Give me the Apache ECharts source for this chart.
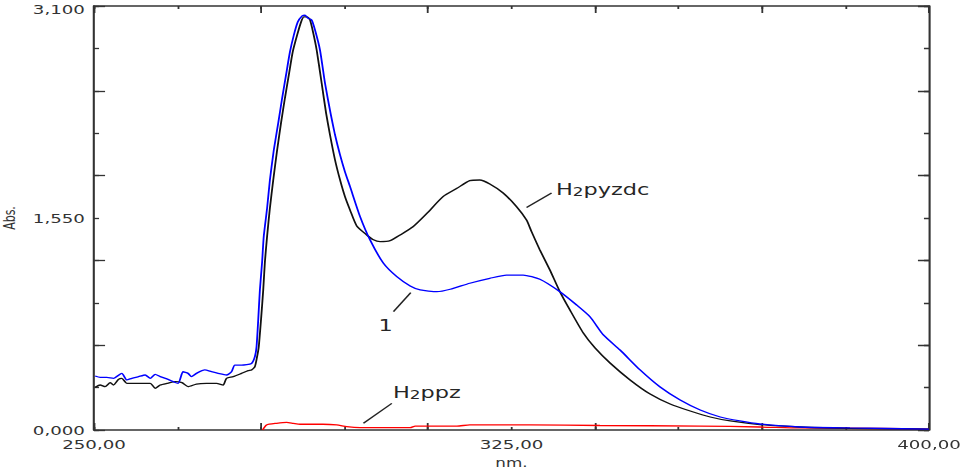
<!DOCTYPE html>
<html><head><meta charset="utf-8">
<script src="https://cdn.jsdelivr.net/npm/echarts/dist/echarts.min.js"></script>
<style>
html,body{margin:0;padding:0;background:#fff;overflow:hidden}
#wrap{width:960px;height:474px;overflow:hidden;position:relative}
#c{height:474px;transform-origin:0 0;position:absolute;left:0;top:0}
</style>
</head><body><div id="wrap"><div id="c"></div></div>
<script>
// ---- data ----
const xLabelTicks = [250, 325, 400];
const yLabelTicks = [0, 1.55, 3.1];

const pyzdcNm = [250.2,251.1,252.0,252.9,253.5,254.4,255.0,255.9,257.7,260.1,261.0,261.9,263.1,264.6,265.8,266.9,268.4,270.2,272.0,273.2,273.8,275.0,276.5,277.7,278.3,278.9,279.3,279.6,
  280.0,280.4,280.7,281.1,281.6,282.2,282.9,283.6,284.3,285.0,285.7,286.5,287.2,287.7,288.3,288.8,289.4,290.0,290.9,291.7,292.4,293.3,294.2,295.1,296.0,297.2,299.0,300.1,301.4,303.2,305.0,307.3,309.8,312.7,315.2,317.5,319.3,321.1,323.5,325.9,327.7,328.6,330.1,331.9,333.7,335.5,337.9,340.0,342.7,346.3,349.9,353.5,357.1,360.7,364.3,369.6,376.8,385.8,400.0];
const pyzdcAbs = [0.312,0.329,0.317,0.346,0.329,0.370,0.378,0.341,0.341,0.341,0.305,0.329,0.341,0.353,0.346,0.317,0.336,0.341,0.341,0.329,0.378,0.390,0.414,0.434,0.439,0.463,0.536,0.609,
  0.804,1.024,1.228,1.418,1.623,1.828,2.047,2.245,2.427,2.596,2.764,2.888,2.983,3.020,3.020,2.998,2.900,2.778,2.535,2.315,2.157,1.974,1.828,1.704,1.608,1.492,1.426,1.393,1.377,1.384,1.426,1.486,1.584,1.706,1.767,1.823,1.828,1.799,1.733,1.633,1.535,1.450,1.316,1.170,1.011,0.877,0.709,0.600,0.490,0.366,0.263,0.190,0.139,0.095,0.066,0.040,0.022,0.012,0.007];

const cpd1Nm = [250.2,251.1,252.3,253.5,255.0,255.9,256.8,258.0,259.2,260.1,261.0,261.9,263.3,265.1,266.0,266.9,267.5,268.4,269.9,271.1,272.3,273.8,274.7,275.3,276.5,278.3,278.9,279.2,
  279.5,279.8,280.2,280.5,281.1,281.6,282.3,283.1,283.8,284.5,285.2,285.9,286.6,287.4,287.9,288.4,289.1,289.7,290.6,291.5,292.5,293.3,294.2,295.1,296.0,297.8,299.6,302.0,304.4,306.8,308.6,311.6,314.0,317.5,321.1,324.1,327.1,330.1,333.7,336.7,339.1,341.5,344.5,348.1,351.7,355.3,358.9,362.5,366.0,369.6,376.8,385.8,400.0];
const cpd1Abs = [0.395,0.385,0.385,0.378,0.414,0.366,0.378,0.390,0.402,0.378,0.407,0.390,0.370,0.341,0.426,0.414,0.390,0.414,0.439,0.426,0.414,0.402,0.426,0.475,0.475,0.487,0.536,0.609,
  0.804,1.024,1.228,1.418,1.623,1.828,2.047,2.245,2.427,2.596,2.764,2.888,2.983,3.027,3.034,3.012,2.998,2.925,2.778,2.535,2.315,2.157,2.011,1.886,1.779,1.560,1.389,1.219,1.121,1.053,1.024,1.011,1.029,1.073,1.109,1.133,1.133,1.102,1.011,0.914,0.828,0.695,0.585,0.439,0.314,0.219,0.146,0.095,0.066,0.044,0.022,0.015,0.007];

const ppzNm = [280.3,281.0,282.8,284.6,285.8,287.0,291.1,293.6,295.4,297.8,306.8,307.7,315.2,317.5,328.3,340.9,358.9,369.6,376.8,391.2,400.0];
const ppzAbs = [0.000,0.037,0.049,0.056,0.049,0.042,0.042,0.037,0.024,0.017,0.017,0.029,0.029,0.037,0.037,0.033,0.029,0.022,0.015,0.011,0.007];

// annotation anchors (data coordinates)
const labelPyzdc = [333.0, 1.762];
const leaderPyzdc = [[327.7, 1.627], [332.2, 1.733]];
const label1 = [302.4, 0.768];
const leader1 = [[303.8, 0.865], [306.9, 1.004]];
const labelPpz = [303.7, 0.278];
const leaderPpz = [[298.4, 0.049], [303.5, 0.195]];

// ---- chart ----
// The reference image is horizontally stretched; draw at a narrower width and stretch it.
const S = 1.4;
const W = 960 / S;
const el = document.getElementById('c');
el.style.width = W + 'px';
el.style.transform = 'scaleX(' + S + ')';

const zip = (a, b) => a.map((v, i) => [v, b[i]]);
const axisCol = '#333';
const labelFont = 'DejaVu Sans';
const annoFont = 'DejaVu Sans';
const annoCol = '#262626';
const near = (v, arr) => arr.some(t => Math.abs(v - t) < 1e-6);

const richSub = {
  a: {fontFamily: annoFont, fontSize: 16, color: annoCol, lineHeight: 17, verticalAlign: 'bottom'},
  s: {fontFamily: annoFont, fontSize: 12, color: annoCol, lineHeight: 14, verticalAlign: 'bottom'}
};

function leader(pair) {
  return [{coord: pair[0]}, {coord: pair[1]}];
}
function textPoint(coord, text, pos) {
  return {
    coord: coord, symbol: 'circle', symbolSize: 0,
    label: {show: true, position: pos, distance: 0, formatter: text, rich: richSub}
  };
}
function yLabel(v) {
  if (!near(v, yLabelTicks)) return '';
  const s = v.toFixed(3).replace('.', ',');
  return near(v, [3.1]) ? '{t|' + s + '}' : s;
}

const baseX = {
  type: 'value', min: 250, max: 400, gridIndex: 0,
  axisLine: {show: true, onZero: false, lineStyle: {color: axisCol, width: 1.6}},
  splitLine: {show: false}
};
const baseY = {
  type: 'value', min: 0, max: 3.1, gridIndex: 0,
  axisLine: {show: true, onZero: false, lineStyle: {color: axisCol, width: 1.5}},
  splitLine: {show: false}
};
const tickStyle = {color: axisCol, width: 1.3};

const option = {
  animation: false,
  backgroundColor: '#fff',
  grid: {left: 94 / S, right: 31 / S, top: 6, bottom: 44, containLabel: false, outerBoundsMode: 'none'},
  xAxis: [
    Object.assign({}, baseX, {
      position: 'bottom', interval: 15,
      axisTick: {show: true, inside: true, length: 3, lineStyle: tickStyle},
      axisLabel: {show: true, margin: 8, fontFamily: labelFont, fontSize: 13, color: '#333',
        formatter: v => near(v, xLabelTicks) ? v.toFixed(2).replace('.', ',') : ''},
      name: 'nm.', nameLocation: 'middle', nameGap: 26,
      nameTextStyle: {fontFamily: labelFont, fontSize: 12, color: '#333'}
    }),
    Object.assign({}, baseX, {
      position: 'bottom', interval: 30, axisLine: {show: false, onZero: false},
      axisTick: {show: true, inside: true, length: 7, lineStyle: tickStyle},
      axisLabel: {show: false}
    }),
    Object.assign({}, baseX, {
      position: 'top', interval: 15,
      axisTick: {show: true, inside: true, length: 3, lineStyle: tickStyle},
      axisLabel: {show: false}
    }),
    Object.assign({}, baseX, {
      position: 'top', interval: 30, axisLine: {show: false, onZero: false},
      axisTick: {show: true, inside: true, length: 7, lineStyle: tickStyle},
      axisLabel: {show: false}
    })
  ],
  yAxis: [
    Object.assign({}, baseY, {
      position: 'left', interval: 0.31,
      axisTick: {show: true, inside: true, length: 3.6, lineStyle: tickStyle},
      axisLabel: {show: true, margin: 6.5, fontFamily: labelFont, fontSize: 13, color: '#333',
        formatter: yLabel,
        rich: {t: {fontFamily: labelFont, fontSize: 13, color: '#333', padding: [6, 0, 0, 0]}}},
      name: 'Abs.', nameLocation: 'middle', nameGap: 49, nameRotate: 90,
      nameTextStyle: {fontFamily: labelFont, fontSize: 11, color: '#333'}
    }),
    Object.assign({}, baseY, {
      position: 'left', interval: 0.62, axisLine: {show: false, onZero: false},
      axisTick: {show: true, inside: true, length: 7.9, lineStyle: tickStyle},
      axisLabel: {show: false}
    }),
    Object.assign({}, baseY, {
      position: 'right', interval: 0.31,
      axisTick: {show: true, inside: true, length: 3.6, lineStyle: tickStyle},
      axisLabel: {show: false}
    }),
    Object.assign({}, baseY, {
      position: 'right', interval: 0.62, axisLine: {show: false, onZero: false},
      axisTick: {show: true, inside: true, length: 7.9, lineStyle: tickStyle},
      axisLabel: {show: false}
    })
  ],
  series: [
    {
      name: 'H2ppz', type: 'line', xAxisIndex: 0, yAxisIndex: 0,
      data: zip(ppzNm, ppzAbs), showSymbol: false, smooth: 0.2,
      lineStyle: {color: '#ff0000', width: 1.3}, z: 2,
      markLine: {silent: true, symbol: ['none', 'none'], label: {show: false},
        lineStyle: {color: '#222', width: 1.2, type: 'solid'}, data: [leader(leaderPpz)]},
      markPoint: {silent: true, data: [textPoint(labelPpz, '{a|H}{s|2}{a|ppz}', 'right')]}
    },
    {
      name: 'H2pyzdc', type: 'line', xAxisIndex: 0, yAxisIndex: 0,
      data: zip(pyzdcNm, pyzdcAbs), showSymbol: false, smooth: 0.2,
      lineStyle: {color: '#111', width: 1.3}, z: 3,
      markLine: {silent: true, symbol: ['none', 'none'], label: {show: false},
        lineStyle: {color: '#222', width: 1.2, type: 'solid'}, data: [leader(leaderPyzdc)]},
      markPoint: {silent: true, data: [textPoint(labelPyzdc, '{a|H}{s|2}{a|pyzdc}', 'right')]}
    },
    {
      name: '1', type: 'line', xAxisIndex: 0, yAxisIndex: 0,
      data: zip(cpd1Nm, cpd1Abs), showSymbol: false, smooth: 0.2,
      lineStyle: {color: '#0000ff', width: 1.3}, z: 4,
      markLine: {silent: true, symbol: ['none', 'none'], label: {show: false},
        lineStyle: {color: '#222', width: 1.2, type: 'solid'}, data: [leader(leader1)]},
      markPoint: {silent: true, data: [textPoint(label1, '{a|1}', 'inside')]}
    }
  ]
};

const chart = echarts.init(el, null, {renderer: 'svg', width: W, height: 474});
chart.setOption(option);
</script>
</body></html>
